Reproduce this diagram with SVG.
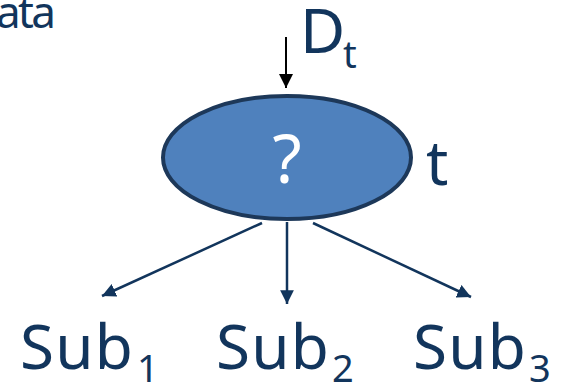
<svg xmlns="http://www.w3.org/2000/svg" width="563" height="384" viewBox="0 0 563 384">
<style>
  .lbl{font-family:"Noto Sans","Open Sans",sans-serif;fill:#12355c;}
  .big{font-size:62px;}
  .sub{font-size:38px;}
  .conn{stroke:#12355c;stroke-width:2.5;fill:none;}
</style>
<defs>
  <marker id="ah" viewBox="0 0 10 10" refX="10" refY="5" markerWidth="5.5" markerHeight="5.5" orient="auto" markerUnits="strokeWidth">
    <path d="M0,0 L10,5 L0,10 z" fill="#12355c"/>
  </marker>
  <marker id="ahk" viewBox="0 0 10 10" refX="10" refY="5" markerWidth="7" markerHeight="7" orient="auto" markerUnits="strokeWidth">
    <path d="M0,0 L10,5 L0,10 z" fill="#000"/>
  </marker>
</defs>
<rect width="563" height="384" fill="#fff"/>
<g id="corner-label"><text class="lbl" x="-4" y="28" font-size="44" textLength="60">ata</text></g>
<g id="input-label"><text class="lbl big" x="300" y="53">D</text><text class="lbl sub" x="343" y="68">t</text></g>
<g id="connectors">
  <line x1="286" y1="37" x2="286" y2="88" stroke="#000" stroke-width="2" marker-end="url(#ahk)"/>
  <line class="conn" x1="262" y1="223" x2="102" y2="296" marker-end="url(#ah)"/>
  <line class="conn" x1="287" y1="222" x2="287" y2="304" marker-end="url(#ah)"/>
  <line class="conn" x1="313" y1="223" x2="471" y2="297" marker-end="url(#ah)"/>
</g>
<g id="node-t">
  <ellipse cx="287" cy="157.5" rx="124" ry="61.5" fill="#4f81bd" stroke="#1d3859" stroke-width="4"/>
  <text x="287" y="183" text-anchor="middle" font-family="Noto Sans, Open Sans, sans-serif" font-size="67" fill="#fff">?</text>
</g>
<g id="node-label-t"><text class="lbl big" x="426" y="185">t</text></g>
<g id="sub1"><text class="lbl big" x="20" y="369" textLength="113">Sub</text><text class="lbl sub" x="137" y="382">1</text></g>
<g id="sub2"><text class="lbl big" x="216" y="369" textLength="113">Sub</text><text class="lbl sub" x="332" y="382">2</text></g>
<g id="sub3"><text class="lbl big" x="413" y="369" textLength="113">Sub</text><text class="lbl sub" x="529" y="382">3</text></g>
</svg>
